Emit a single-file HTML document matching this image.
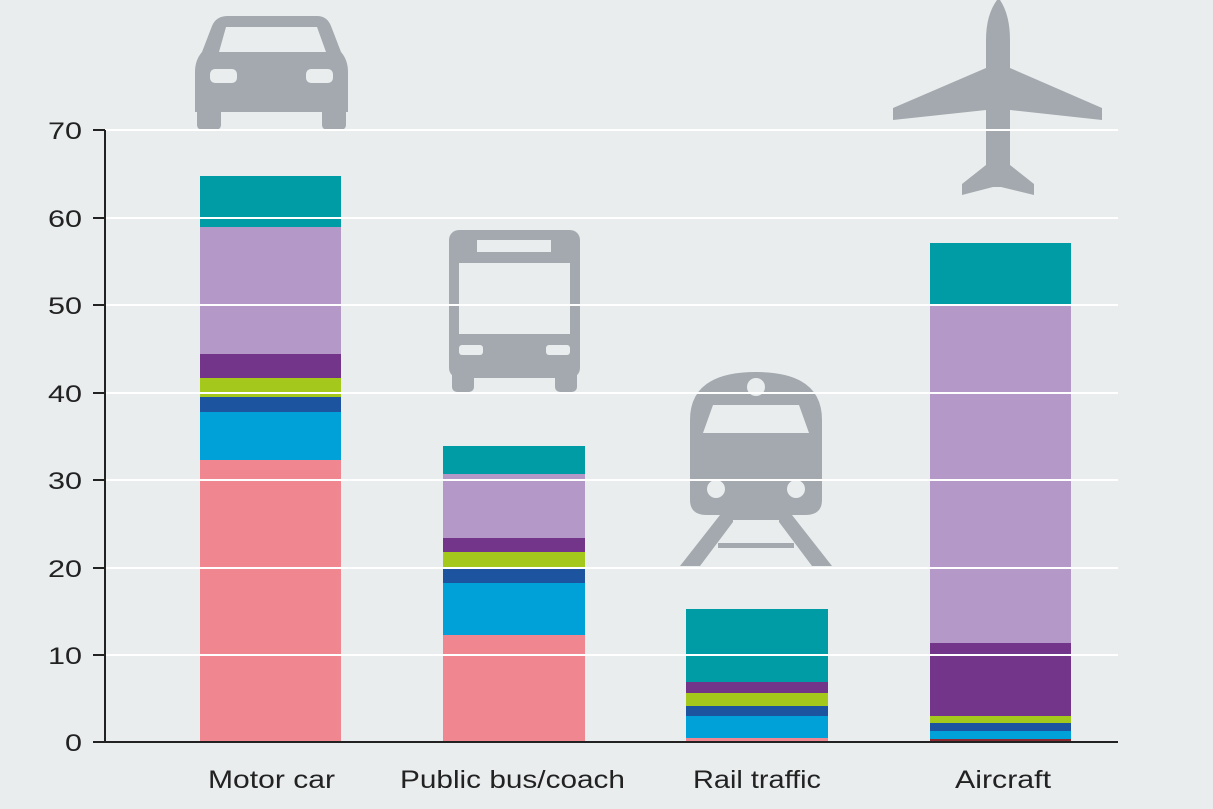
<!DOCTYPE html>
<html><head><style>
body{margin:0;background:#e9edee;}
svg{display:block;font-family:"Liberation Sans",sans-serif;}
</style></head><body>
<svg width="1213" height="809" viewBox="0 0 1213 809">
<rect width="1213" height="809" fill="#e9edee"/>
<!-- Car -->
<g fill="#a3a9ae">
<rect x="197" y="95" width="24" height="35" rx="5"/>
<rect x="322" y="95" width="24" height="35" rx="5"/>
<path d="M228 16 H317 Q327 16 331 26 L341 52 Q348 60 348 72 V112 H195 V72 Q195 60 202 52 L212 26 Q216 16 228 16 Z"/>
</g>
<path d="M226 27 H317 L326 52 H219 Z" fill="#e9edee"/>
<rect x="210" y="69" width="27" height="14" rx="5" fill="#e9edee"/>
<rect x="306" y="69" width="27" height="14" rx="5" fill="#e9edee"/>
<!-- Bus -->
<g fill="#a3a9ae">
<rect x="449" y="230" width="131" height="148" rx="10"/>
<rect x="452" y="370" width="22" height="22" rx="5"/>
<rect x="555" y="370" width="22" height="22" rx="5"/>
</g>
<rect x="477" y="240" width="74" height="12" fill="#e9edee"/>
<rect x="459" y="263" width="111" height="71" fill="#e9edee"/>
<rect x="459" y="345" width="24" height="10" rx="3" fill="#e9edee"/>
<rect x="546" y="345" width="24" height="10" rx="3" fill="#e9edee"/>
<!-- Train -->
<g fill="#a3a9ae">
<path d="M690 420 Q690 372 756 372 Q822 372 822 420 V500 Q822 515 805 515 H707 Q690 515 690 500 Z"/>
<path d="M720 515 L680 566 H700 L733 522 H779 L812 566 H832 L792 515 Z"/>
</g>
<circle cx="756" cy="387" r="9" fill="#e9edee"/>
<path d="M713 405 H799 L809 433 H703 Z" fill="#e9edee"/>
<circle cx="716" cy="489" r="9" fill="#e9edee"/>
<circle cx="796" cy="489" r="9" fill="#e9edee"/>
<rect x="733" y="520" width="46" height="5" fill="#e9edee"/>
<rect x="718" y="543" width="76" height="5" fill="#a3a9ae"/>
<!-- Plane -->
<path fill="#a3a9ae" d="M997 0 Q986 15 986 40 V68 L893 108 V120 L986 110 V165 L962 184 V195 L993 187 H1001 L1034 195 V184 L1010 165 V110 L1102 120 V108 L1010 68 V40 Q1010 15 1000 0 Z"/>
<!-- Bars -->
<g>
<rect x="200" y="460" width="141" height="282" fill="#f0868f"/>
<rect x="200" y="412" width="141" height="48" fill="#00a0d8"/>
<rect x="200" y="397" width="141" height="15" fill="#1c54a0"/>
<rect x="200" y="378" width="141" height="19" fill="#a4c81c"/>
<rect x="200" y="354" width="141" height="24" fill="#723589"/>
<rect x="200" y="227" width="141" height="127" fill="#b398c8"/>
<rect x="200" y="176" width="141" height="51" fill="#009ca6"/>

<rect x="443" y="635" width="142" height="107" fill="#f0868f"/>
<rect x="443" y="583" width="142" height="52" fill="#00a0d8"/>
<rect x="443" y="569" width="142" height="14" fill="#1c54a0"/>
<rect x="443" y="552" width="142" height="17" fill="#a4c81c"/>
<rect x="443" y="538" width="142" height="14" fill="#723589"/>
<rect x="443" y="474" width="142" height="64" fill="#b398c8"/>
<rect x="443" y="446" width="142" height="28" fill="#009ca6"/>

<rect x="686" y="738" width="142" height="4" fill="#f0868f"/>
<rect x="686" y="716" width="142" height="22" fill="#00a0d8"/>
<rect x="686" y="706" width="142" height="10" fill="#1c54a0"/>
<rect x="686" y="693" width="142" height="13" fill="#a4c81c"/>
<rect x="686" y="682" width="142" height="11" fill="#723589"/>
<rect x="686" y="609" width="142" height="73" fill="#009ca6"/>

<rect x="930" y="739" width="141" height="3" fill="#8a2a30"/>
<rect x="930" y="731" width="141" height="8" fill="#00a0d8"/>
<rect x="930" y="723" width="141" height="8" fill="#1c54a0"/>
<rect x="930" y="716" width="141" height="7" fill="#a4c81c"/>
<rect x="930" y="643" width="141" height="73" fill="#723589"/>
<rect x="930" y="306" width="141" height="337" fill="#b398c8"/>
<rect x="930" y="243" width="141" height="63" fill="#009ca6"/>
</g>
<!-- grid -->
<g stroke="#fff" stroke-width="2">
<line x1="105" x2="1118" y1="655" y2="655"/>
<line x1="105" x2="1118" y1="568" y2="568"/>
<line x1="105" x2="1118" y1="480" y2="480"/>
<line x1="105" x2="1118" y1="393" y2="393"/>
<line x1="105" x2="1118" y1="305" y2="305"/>
<line x1="105" x2="1118" y1="218" y2="218"/>
<line x1="105" x2="1118" y1="130" y2="130"/>
</g>
<g stroke="#222" stroke-width="2">
<line x1="105" x2="105" y1="130" y2="742"/>
<line x1="93" x2="1118" y1="742" y2="742"/>
<line x1="93" x2="105" y1="655" y2="655"/>
<line x1="93" x2="105" y1="568" y2="568"/>
<line x1="93" x2="105" y1="480" y2="480"/>
<line x1="93" x2="105" y1="393" y2="393"/>
<line x1="93" x2="105" y1="305" y2="305"/>
<line x1="93" x2="105" y1="218" y2="218"/>
<line x1="93" x2="105" y1="130" y2="130"/>
</g>
<g font-size="24" fill="#222">
<text x="65" y="751" textLength="17" lengthAdjust="spacingAndGlyphs">0</text>
<text x="48" y="664" textLength="34" lengthAdjust="spacingAndGlyphs">10</text>
<text x="48" y="577" textLength="34" lengthAdjust="spacingAndGlyphs">20</text>
<text x="48" y="489" textLength="34" lengthAdjust="spacingAndGlyphs">30</text>
<text x="48" y="402" textLength="34" lengthAdjust="spacingAndGlyphs">40</text>
<text x="48" y="314" textLength="34" lengthAdjust="spacingAndGlyphs">50</text>
<text x="48" y="227" textLength="34" lengthAdjust="spacingAndGlyphs">60</text>
<text x="48" y="139" textLength="34" lengthAdjust="spacingAndGlyphs">70</text>
</g>
<g font-size="25" fill="#222">
<text x="208" y="788" textLength="127" lengthAdjust="spacingAndGlyphs">Motor car</text>
<text x="400" y="788" textLength="225" lengthAdjust="spacingAndGlyphs">Public bus/coach</text>
<text x="693" y="788" textLength="128" lengthAdjust="spacingAndGlyphs">Rail traffic</text>
<text x="955" y="788" textLength="96" lengthAdjust="spacingAndGlyphs">Aircraft</text>
</g>
</svg>
</body></html>
